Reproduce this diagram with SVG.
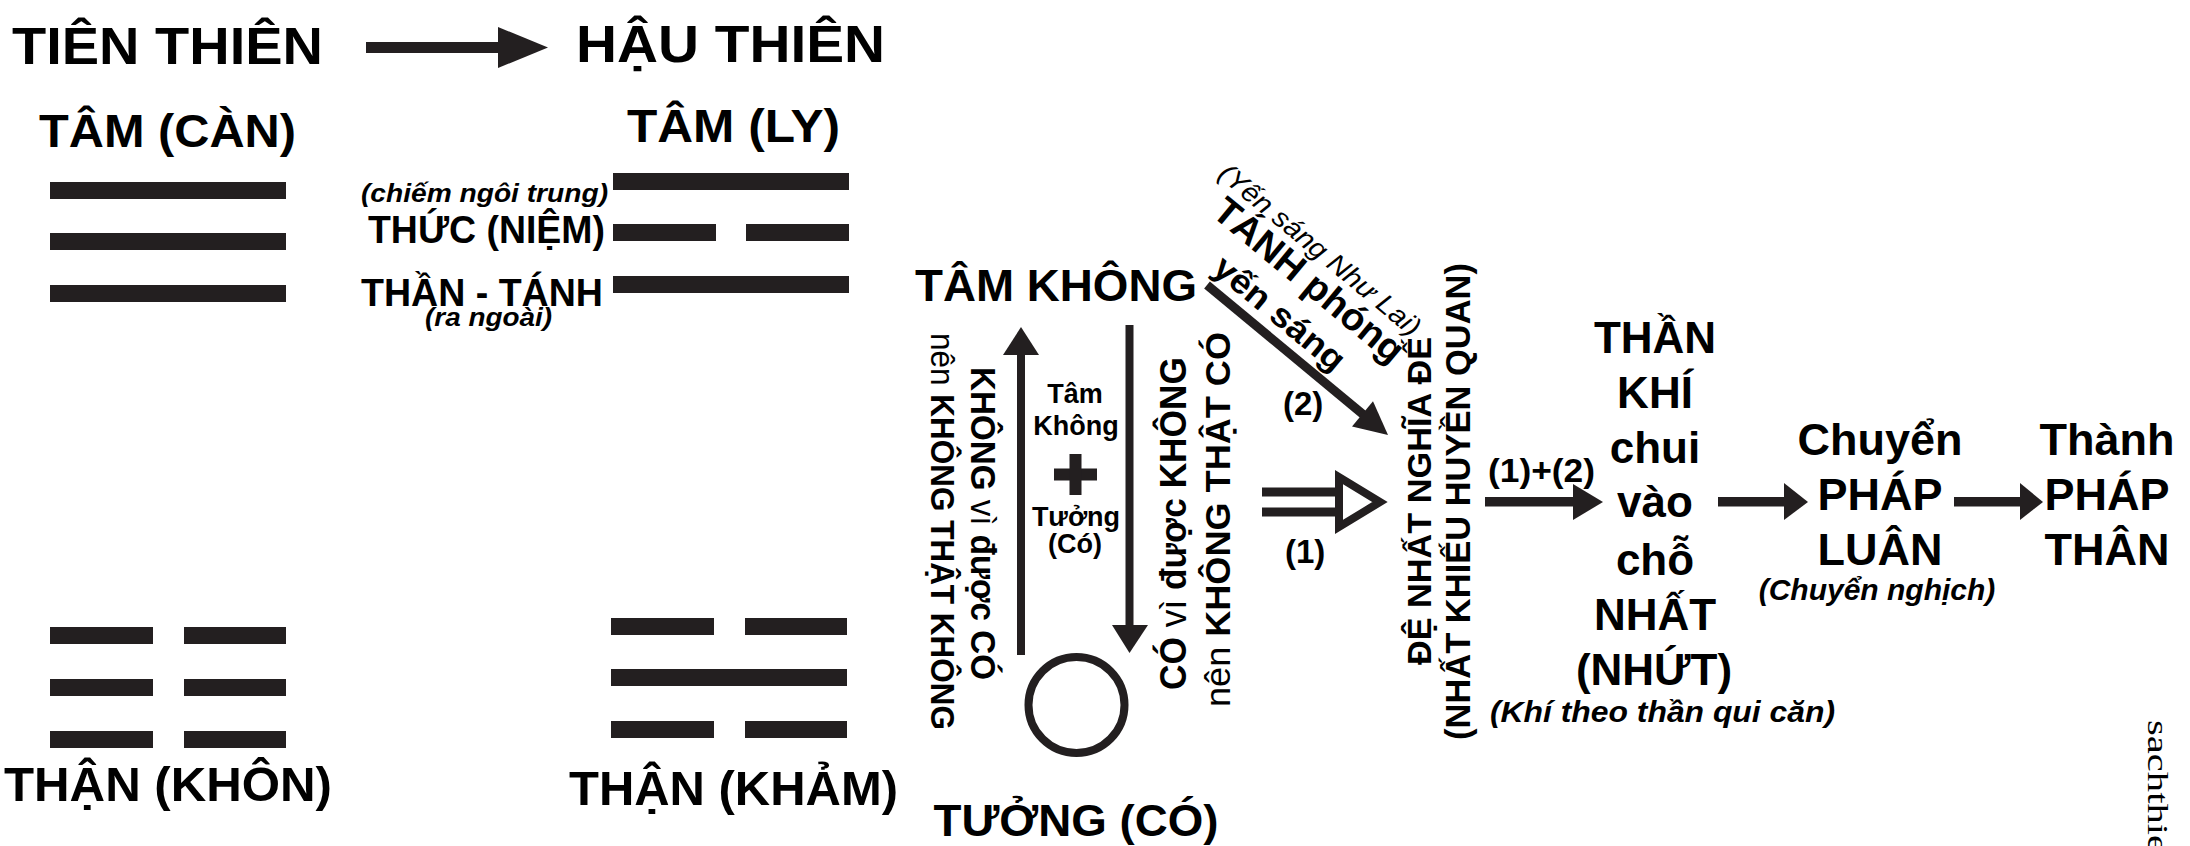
<svg xmlns="http://www.w3.org/2000/svg" width="2190" height="846" viewBox="0 0 2190 846">
<style>
text{font-family:"Liberation Sans",Arial,sans-serif;fill:#000}
.b{font-weight:bold}
.bi{font-weight:bold;font-style:italic}
.i{font-style:italic}
.n{font-weight:normal}
.m{text-anchor:middle}
.bar{fill:#231f20}
.ln{stroke:#231f20;fill:none}
.hd{fill:#231f20}
</style>
<rect width="2190" height="846" fill="#fff"/>

<g id="tien-thien"><text class="b" x="12" y="64" font-size="52" textLength="311" lengthAdjust="spacingAndGlyphs">TIÊN THIÊN</text></g>
<g id="hau-thien"><text class="b" x="576" y="62" font-size="52" textLength="309" lengthAdjust="spacingAndGlyphs">HẬU THIÊN</text></g>

<g id="tam-can">
<text class="b" x="39" y="147" font-size="46" textLength="257" lengthAdjust="spacingAndGlyphs">TÂM (CÀN)</text>
<rect class="bar" x="50" y="182" width="236" height="17"/>
<rect class="bar" x="50" y="233" width="236" height="17"/>
<rect class="bar" x="50" y="285" width="236" height="17"/>
</g>

<g id="tam-ly">
<text class="b" x="627" y="142" font-size="46" textLength="213" lengthAdjust="spacingAndGlyphs">TÂM (LY)</text>
<rect class="bar" x="613" y="173" width="236" height="17"/>
<rect class="bar" x="613" y="224" width="103" height="17"/>
<rect class="bar" x="746" y="224" width="103" height="17"/>
<rect class="bar" x="613" y="276" width="236" height="17"/>
<text class="bi" x="361" y="202" font-size="25" textLength="247" lengthAdjust="spacingAndGlyphs">(chiếm ngôi trung)</text>
<text class="b" x="368" y="243" font-size="38" textLength="237" lengthAdjust="spacingAndGlyphs">THỨC (NIỆM)</text>
<text class="b" x="361" y="306" font-size="38" textLength="242" lengthAdjust="spacingAndGlyphs">THẦN - TÁNH</text>
<text class="bi" x="425" y="326" font-size="25" textLength="127" lengthAdjust="spacingAndGlyphs">(ra ngoài)</text>
</g>

<g id="than-khon">
<rect class="bar" x="50" y="627" width="103" height="17"/>
<rect class="bar" x="184" y="627" width="102" height="17"/>
<rect class="bar" x="50" y="679" width="103" height="17"/>
<rect class="bar" x="184" y="679" width="102" height="17"/>
<rect class="bar" x="50" y="731" width="103" height="17"/>
<rect class="bar" x="184" y="731" width="102" height="17"/>
<text class="b" x="4" y="801" font-size="48" textLength="328" lengthAdjust="spacingAndGlyphs">THẬN (KHÔN)</text>
</g>

<g id="than-kham">
<rect class="bar" x="611" y="618" width="103" height="17"/>
<rect class="bar" x="745" y="618" width="102" height="17"/>
<rect class="bar" x="611" y="669" width="236" height="17"/>
<rect class="bar" x="611" y="721" width="103" height="17"/>
<rect class="bar" x="745" y="721" width="102" height="17"/>
<text class="b" x="569" y="805" font-size="48" textLength="329" lengthAdjust="spacingAndGlyphs">THẬN (KHẢM)</text>
</g>

<g id="tam-khong"><text class="b" x="915" y="301" font-size="44" textLength="282" lengthAdjust="spacingAndGlyphs">TÂM KHÔNG</text></g>

<g id="tuong-co">
<circle cx="1076.5" cy="705" r="48" fill="none" stroke="#231f20" stroke-width="8"/>
<text class="b m" x="1076" y="836" font-size="44" textLength="285" lengthAdjust="spacingAndGlyphs">TƯỞNG (CÓ)</text>
</g>

<g id="tam-khong-tuong">
<text class="b m" x="1075" y="403" font-size="27">Tâm</text>
<text class="b m" x="1076" y="435" font-size="27">Không</text>
<rect class="bar" x="1054" y="468.5" width="43" height="12"/>
<rect class="bar" x="1069.5" y="454" width="12" height="41"/>
<text class="b m" x="1076" y="526" font-size="27">Tưởng</text>
<text class="b m" x="1075" y="553" font-size="27">(Có)</text>
</g>

<g id="label-left">
<text font-size="33" transform="translate(931,333) rotate(90)" textLength="397" lengthAdjust="spacingAndGlyphs"><tspan class="n">nên </tspan><tspan class="b">KHÔNG THẬT KHÔNG</tspan></text>
<text font-size="35" transform="translate(971,367) rotate(90)" textLength="313" lengthAdjust="spacingAndGlyphs"><tspan class="b">KHÔNG </tspan><tspan class="n">vì </tspan><tspan class="b">được CÓ</tspan></text>
</g>

<g id="label-right">
<text font-size="36" transform="translate(1186,690) rotate(-90)" textLength="333" lengthAdjust="spacingAndGlyphs"><tspan class="b">CÓ </tspan><tspan class="n">vì </tspan><tspan class="b">được KHÔNG</tspan></text>
<text font-size="35" transform="translate(1230,707) rotate(-90)" textLength="375" lengthAdjust="spacingAndGlyphs"><tspan class="n">nên </tspan><tspan class="b">KHÔNG THẬT CÓ</tspan></text>
</g>

<g id="tanh-label" transform="translate(1207,285) rotate(39.65)">
<text class="b" x="-6" y="-13" font-size="34" textLength="160" lengthAdjust="spacingAndGlyphs">yến sáng</text>
<text class="b" x="-42" y="-56" font-size="38" textLength="235" lengthAdjust="spacingAndGlyphs">TÁNH phóng</text>
<text class="i" x="-62" y="-90" font-size="27" textLength="253" lengthAdjust="spacingAndGlyphs">(Yến sáng Như Lai)</text>
</g>

<g id="de-nhat">
<text class="b" font-size="34" transform="translate(1431,665) rotate(-90)" textLength="328" lengthAdjust="spacingAndGlyphs">ĐỆ NHẤT NGHĨA ĐẾ</text>
<text class="b" font-size="35" transform="translate(1470,740) rotate(-90)" textLength="477" lengthAdjust="spacingAndGlyphs">(NHẤT KHIẾU HUYỀN QUAN)</text>
</g>

<g id="than-khi">
<text class="b m" x="1655" y="353" font-size="44">THẦN</text>
<text class="b m" x="1655" y="408" font-size="44">KHÍ</text>
<text class="b m" x="1655" y="463" font-size="44">chui</text>
<text class="b m" x="1655" y="517" font-size="44">vào</text>
<text class="b m" x="1655" y="575" font-size="44">chỗ</text>
<text class="b m" x="1655" y="630" font-size="44">NHẤT</text>
<text class="b m" x="1654" y="685" font-size="44">(NHỨT)</text>
<text class="bi" x="1490" y="722" font-size="30" textLength="345" lengthAdjust="spacingAndGlyphs">(Khí theo thần qui căn)</text>
</g>

<g id="chuyen-phap-luan">
<text class="b m" x="1880" y="455" font-size="45">Chuyển</text>
<text class="b m" x="1880" y="510" font-size="45">PHÁP</text>
<text class="b m" x="1880" y="565" font-size="45">LUÂN</text>
<text class="bi m" x="1877" y="600" font-size="30">(Chuyển nghịch)</text>
</g>

<g id="thanh-phap-than">
<text class="b m" x="2107" y="455" font-size="45">Thành</text>
<text class="b m" x="2107" y="510" font-size="45">PHÁP</text>
<text class="b m" x="2107" y="565" font-size="45">THÂN</text>
</g>

<g id="watermark">
<text style="font-family:'Liberation Serif',serif" font-size="29" transform="translate(2148,720) rotate(90)" textLength="133" lengthAdjust="spacingAndGlyphs">sachthie</text>
</g>

<g id="connectors">
<rect class="bar" x="366" y="42" width="134" height="11"/>
<polygon class="hd" points="498,27 548,47.5 498,68"/>
<line class="ln" x1="1021" y1="655" x2="1021" y2="350" stroke-width="8"/>
<polygon class="hd" points="1003,355 1021,327 1039,355"/>
<line class="ln" x1="1129.5" y1="325" x2="1129.5" y2="630" stroke-width="8"/>
<polygon class="hd" points="1112,625 1129.5,653 1148,625"/>
<line class="ln" x1="1207" y1="285" x2="1365" y2="416" stroke-width="9"/>
<polygon class="hd" points="1388,435 1352,426.6 1373,401.2"/>
<text class="b" x="1283" y="415" font-size="33">(2)</text>
<rect class="bar" x="1262" y="487.5" width="74" height="9"/>
<rect class="bar" x="1262" y="507.5" width="74" height="9"/>
<polygon points="1339,477 1339,527 1380,502" fill="#fff" stroke="#231f20" stroke-width="8"/>
<text class="b" x="1285" y="563" font-size="33">(1)</text>
<text class="b" x="1488" y="482" font-size="34" textLength="107" lengthAdjust="spacingAndGlyphs">(1)+(2)</text>
<rect class="bar" x="1485" y="497" width="90" height="9.5"/>
<polygon class="hd" points="1573,484 1603,502 1573,520"/>
<rect class="bar" x="1718" y="497" width="68" height="9.5"/>
<polygon class="hd" points="1784,483 1808,502 1784,520"/>
<rect class="bar" x="1954" y="497" width="68" height="9.5"/>
<polygon class="hd" points="2020,483 2043,502 2020,520"/>
</g>
</svg>
